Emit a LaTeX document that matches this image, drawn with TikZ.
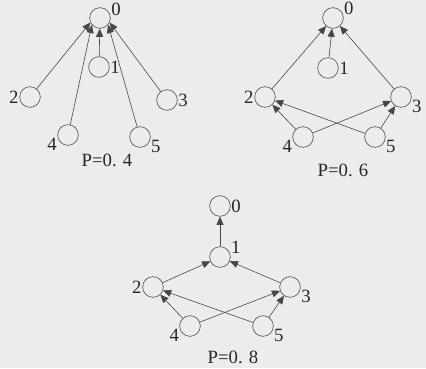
\documentclass[tikz,border=0pt]{standalone}
\usepackage{fontspec}
\setmainfont{Liberation Serif}
\usetikzlibrary{arrows.meta}
\definecolor{bgcol}{RGB}{236,236,236}
\definecolor{inkcol}{RGB}{70,70,70}
\begin{document}
\begin{tikzpicture}[x=0.03cm,y=-0.03cm,
  vert/.style={circle,draw=inkcol,fill=bgcol,minimum size=0.62cm,inner sep=0pt,line width=0.5pt},
  edge/.style={draw=inkcol,line width=0.5pt,-{Triangle[length=7pt,width=6pt]}},
  every label/.style={font=\fontsize{16}{19}\selectfont,inner sep=0.5pt,text=black!85},
  caption/.style={font=\fontsize{16}{19}\selectfont,text=black!85}]
\fill[bgcol] (0,0) rectangle (426,368);
\useasboundingbox (0,0) rectangle (426,368);
% P=0.4
\node[vert,label=10:0] (a0) at (100,18) {};
\node[vert,label=right:1] (a1) at (99,67) {};
\node[vert,label=left:2] (a2) at (30,97) {};
\node[vert,label=right:3] (a3) at (167,100) {};
\node[vert,label=-170:4] (a4) at (68,135) {};
\node[vert,label=-15:5] (a5) at (140,137) {};
\node[caption] (capa) at (107,160) {P=0. 4};
\draw[edge] (a1) -- (a0);
\draw[edge] (a2) -- (a0.205);
\draw[edge] (a4) -- (a0.220);
\draw[edge] (a5) -- (a0.-40);
\draw[edge] (a3) -- (a0.-25);
% P=0.6
\node[vert,label=15:0] (b0) at (333,18) {};
\node[vert,label=right:1] (b1) at (328,68) {};
\node[vert,label=left:2] (b2) at (265,97) {};
\node[vert,label=-15:3] (b3) at (401,97) {};
\node[vert,label=-165:4] (b4) at (303,137) {};
\node[vert,label=-15:5] (b5) at (375,137) {};
\node[caption] (capb) at (343,170) {P=0. 6};
\draw[edge] (b1) -- (b0);
\draw[edge] (b2) -- (b0);
\draw[edge] (b3) -- (b0);
\draw[edge] (b4) -- (b2);
\draw[edge] (b5) -- (b2);
\draw[edge] (b4) -- (b3);
\draw[edge] (b5) -- (b3);
% P=0.8
\node[vert,label=right:0] (c0) at (220,206) {};
\node[vert,label=15:1] (c1) at (220,257) {};
\node[vert,label=left:2] (c2) at (153,287) {};
\node[vert,label=-10:3] (c3) at (290,287) {};
\node[vert,label=-165:4] (c4) at (190,326) {};
\node[vert,label=-15:5] (c5) at (263,326) {};
\node[caption] (capc) at (233,357) {P=0. 8};
\draw[edge] (c1) -- (c0);
\draw[edge] (c2) -- (c1);
\draw[edge] (c3) -- (c1);
\draw[edge] (c4) -- (c2);
\draw[edge] (c5) -- (c2);
\draw[edge] (c4) -- (c3);
\draw[edge] (c5) -- (c3);
\end{tikzpicture}
\end{document}
